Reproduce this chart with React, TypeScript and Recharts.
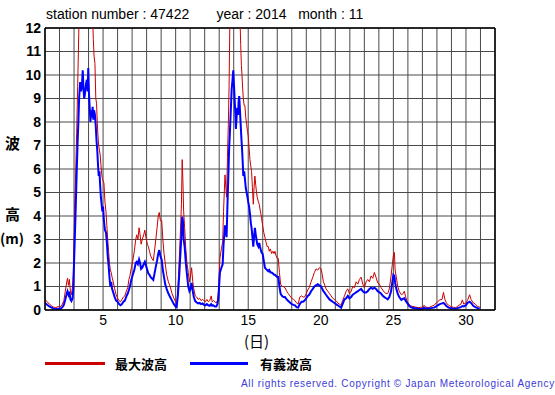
import React from "react";
import {
  LineChart,
  Line,
  XAxis,
  YAxis,
  CartesianGrid,
  ReferenceLine,
} from "recharts";

// time in days of the month (station 47422, 2014-11)
const days = [
  1.0, 1.15, 1.3, 1.45, 1.6, 1.75, 1.9, 2.05, 2.2, 2.3, 2.4, 2.5, 2.55, 2.62, 2.68, 2.75, 2.82, 2.9, 2.95,
  3.0, 3.05, 3.1, 3.18, 3.25, 3.3, 3.35, 3.42, 3.48, 3.55, 3.6, 3.65, 3.7, 3.75, 3.82, 3.88, 3.94, 3.98,
  4.03, 4.08, 4.13, 4.18, 4.23, 4.28, 4.33, 4.38, 4.44, 4.5, 4.55, 4.6, 4.65, 4.7, 4.75, 4.8, 4.85, 4.9, 4.95,
  5.0, 5.06, 5.13, 5.2, 5.26, 5.32, 5.38, 5.44, 5.5, 5.56, 5.62, 5.7, 5.8, 5.9,
  6.0, 6.1, 6.2, 6.3, 6.4, 6.5, 6.6, 6.7, 6.78, 6.85, 6.95,
  7.05, 7.15, 7.25, 7.32, 7.4, 7.48, 7.55, 7.62, 7.7, 7.8, 7.88, 7.95,
  8.05, 8.12, 8.2, 8.28, 8.36, 8.46, 8.56, 8.65, 8.72, 8.8, 8.87, 8.95,
  9.04, 9.12, 9.2, 9.28, 9.38, 9.5, 9.62, 9.75, 9.88,
  10.0, 10.07, 10.15, 10.25, 10.32, 10.4, 10.45, 10.5, 10.55, 10.62, 10.7, 10.78, 10.87, 10.95,
  11.02, 11.1, 11.18, 11.25, 11.35, 11.45, 11.55, 11.65, 11.75, 11.85, 11.95,
  12.05, 12.15, 12.25, 12.35, 12.45, 12.52, 12.6, 12.7, 12.8, 12.88, 12.95,
  13.05, 13.15, 13.24, 13.3, 13.35, 13.4, 13.46, 13.51, 13.57, 13.63, 13.68, 13.74, 13.8, 13.86, 13.92, 13.97,
  14.04, 14.1, 14.15, 14.2, 14.24, 14.3, 14.34, 14.38, 14.43, 14.48, 14.53, 14.57, 14.62, 14.66, 14.72, 14.77,
  14.83, 14.89, 14.95,
  15.0, 15.06, 15.12, 15.18, 15.23, 15.29, 15.35, 15.4, 15.46, 15.52, 15.57, 15.62, 15.7, 15.76, 15.81, 15.87,
  15.92, 15.99,
  16.07, 16.15, 16.22, 16.3, 16.38, 16.45, 16.53, 16.61, 16.7, 16.78, 16.84, 16.92,
  17.0, 17.07, 17.15, 17.23, 17.32, 17.42, 17.53, 17.65, 17.76, 17.87,
  18.0, 18.12, 18.22, 18.33, 18.44, 18.55, 18.67, 18.78, 18.88,
  19.0, 19.1, 19.2, 19.33, 19.45, 19.56, 19.67, 19.79, 19.9,
  20.02, 20.1, 20.18, 20.25, 20.36, 20.48, 20.6, 20.71, 20.82, 20.94,
  21.05, 21.17, 21.28, 21.4, 21.5, 21.63, 21.75, 21.86, 21.97,
  22.09, 22.2, 22.32, 22.43, 22.55, 22.66, 22.78, 22.89,
  23.0, 23.12, 23.23, 23.35, 23.46, 23.58, 23.69, 23.8, 23.92,
  24.04, 24.15, 24.27, 24.38, 24.5, 24.61, 24.72, 24.84, 24.92,
  25.0, 25.07, 25.12, 25.2, 25.3, 25.4, 25.55, 25.68, 25.75, 25.85, 25.95,
  26.08, 26.2, 26.35, 26.55, 26.75, 26.9,
  27.0, 27.1, 27.25, 27.45, 27.6, 27.8, 27.95,
  28.05, 28.2, 28.35, 28.45, 28.55, 28.65, 28.8, 28.95,
  29.1, 29.3, 29.5, 29.65, 29.75, 29.85,
  30.0, 30.1, 30.25, 30.35, 30.5, 30.65, 30.8, 30.95,
];

// 最大波高 (m)
const maxWave = [
  0.45, 0.35, 0.25, 0.18, 0.12, 0.1, 0.15, 0.12, 0.25, 0.4, 0.8, 1.2, 1.35, 1.05, 1.3, 0.8, 0.65, 1.0, 1.5,
  3.0, 4.5, 5.5, 7.5, 9.5, 11.0, 12.5, 13.5, 14.0, 14.5, 14.8, 15.0, 15.0, 14.8, 14.6, 14.5, 14.3, 14.2,
  14.0, 13.8, 13.5, 13.2, 13.0, 12.5, 11.5, 10.8, 10.5, 9.0, 8.8, 8.0, 7.4, 7.0, 6.8, 6.6, 6.2, 5.8, 5.6,
  5.5, 5.4, 4.6, 4.2, 3.6, 3.0, 2.5, 2.0, 1.7, 1.6, 1.4, 1.2, 0.9, 0.65,
  0.5, 0.4, 0.35, 0.45, 0.55, 0.6, 0.8, 0.95, 1.3, 1.45, 1.8,
  2.1, 2.5, 3.0, 3.2, 3.0, 3.5, 3.2, 2.8, 3.0, 3.2, 3.4, 3.1,
  2.8, 2.7, 2.5, 2.3, 2.2, 2.1, 2.6, 3.1, 3.5, 4.0, 4.15, 3.8,
  3.8, 3.0, 2.4, 2.0, 1.5, 1.2, 1.0, 0.7, 0.5,
  0.35, 0.28, 0.8, 2.2, 3.2, 4.5, 6.4, 5.5, 4.2, 3.5, 2.6, 2.0, 1.6, 1.2,
  1.4, 1.8, 1.2, 0.9, 0.6, 0.55, 0.45, 0.5, 0.4, 0.45, 0.4,
  0.35, 0.45, 0.35, 0.4, 0.6, 0.35, 0.4, 0.35, 0.3, 0.4, 0.8,
  2.2, 2.6, 2.9, 4.2, 5.0, 5.75, 5.2, 4.8, 6.5, 7.9, 9.5, 12.5, 13.5, 14.2, 14.8, 15.0,
  15.0, 14.8, 14.5, 14.2, 14.0, 13.6, 13.3, 13.0, 12.5, 11.3, 10.4, 10.0, 9.4, 9.0, 8.7, 8.7,
  8.2, 7.9, 7.6,
  7.4, 6.9, 6.4, 6.1, 5.9, 5.2, 4.5, 5.2, 5.7, 5.3, 5.0, 4.8, 4.6, 4.5, 4.3, 4.1,
  3.9, 3.6,
  3.3, 3.1, 2.9, 2.7, 2.7, 2.5, 2.6, 2.4, 2.5, 2.4, 2.5, 2.3,
  2.2, 2.2, 1.6, 1.1, 1.0, 1.0, 0.95, 0.8, 0.7, 0.6,
  0.5, 0.45, 0.4, 0.3, 0.25, 0.55, 0.6, 0.55, 0.55,
  0.7, 0.85, 0.95, 1.2, 1.4, 1.6, 1.75, 1.7, 1.8,
  1.75, 1.5, 1.2, 1.1, 0.9, 0.8, 0.7, 0.6, 0.5, 0.45,
  0.4, 0.3, 0.25, 0.2, 0.4, 0.6, 0.8, 0.9, 0.7,
  0.8, 1.0, 0.95, 1.2, 1.1, 1.3, 1.4, 1.1,
  0.95, 1.2, 1.3, 1.2, 1.45, 1.35, 1.6, 1.4, 1.15,
  1.1, 0.95, 0.85, 0.75, 0.7, 0.7, 0.9, 1.45, 1.9,
  2.3, 2.45, 1.7, 1.4, 1.0, 0.8, 0.65, 0.7, 0.8, 0.55, 0.35,
  0.25, 0.17, 0.15, 0.12, 0.1, 0.12,
  0.1, 0.2, 0.12, 0.1, 0.15, 0.2, 0.3,
  0.35, 0.43, 0.45, 0.75, 0.45, 0.3, 0.2, 0.15,
  0.12, 0.1, 0.2, 0.25, 0.43, 0.25,
  0.3, 0.4, 0.65, 0.45, 0.3, 0.25, 0.15, 0.12,
];

// 有義波高 (m)
const sigWave = [
  0.3, 0.22, 0.15, 0.1, 0.06, 0.03, 0.05, 0.04, 0.12, 0.22, 0.45, 0.7, 0.8, 0.65, 0.78, 0.45, 0.38, 0.5, 0.9,
  2.0, 3.0, 4.0, 5.8, 7.2, 8.0, 9.0, 9.7, 9.3, 9.6, 10.2, 9.4, 9.0, 9.2, 9.6, 9.8, 9.3, 10.3,
  9.2, 8.6, 8.0, 8.5, 8.2, 8.65, 8.1, 8.5, 8.3, 7.8, 7.2, 6.8, 6.2, 5.7, 5.9, 5.3, 4.8, 4.5, 4.2,
  4.4, 3.8, 3.4, 3.3, 2.9, 2.3, 1.9, 1.4, 1.0, 1.2, 0.9, 0.75, 0.55, 0.4,
  0.35, 0.25, 0.2, 0.25, 0.35, 0.4, 0.57, 0.7, 0.85, 1.0, 1.3,
  1.5, 1.7, 2.0, 2.05, 1.95, 2.15, 2.0, 1.75, 1.8, 1.95, 2.05, 1.9,
  1.7, 1.55, 1.5, 1.4, 1.35, 1.28, 1.6, 1.9, 2.1, 2.4, 2.55, 2.3,
  2.13, 1.7, 1.4, 1.1, 0.9, 0.7, 0.55, 0.4, 0.25,
  0.15, 0.12, 0.6, 1.5, 2.3, 3.2, 3.97, 3.8, 3.0, 2.7, 2.0, 1.5, 1.0, 0.8,
  0.9, 1.15, 0.8, 0.55, 0.38, 0.32, 0.28, 0.3, 0.25, 0.28, 0.22,
  0.2, 0.25, 0.2, 0.18, 0.25, 0.18, 0.2, 0.15, 0.15, 0.25, 0.55,
  1.6, 1.8, 1.95, 2.8, 3.2, 3.6, 3.4, 3.1, 4.5, 5.7, 6.8, 7.6, 8.5, 9.4, 9.8, 10.2,
  9.3, 8.5, 7.7, 8.2, 8.6, 8.3, 8.9, 9.1, 8.5, 7.9, 7.3, 6.9, 6.3, 5.7, 5.9, 5.6,
  5.2, 5.0, 4.8,
  4.6, 4.4, 4.1, 3.7, 3.5, 3.1, 2.7, 3.1, 3.5, 3.2, 3.0, 2.8, 2.7, 2.85, 2.7, 2.55,
  2.45, 2.4,
  2.1, 1.8, 1.75, 1.7, 1.65, 1.7, 1.6, 1.6, 1.55, 1.5, 1.5, 1.45,
  1.4, 1.4, 1.0, 0.7, 0.6, 0.55, 0.55, 0.45, 0.38, 0.32,
  0.25, 0.22, 0.2, 0.12, 0.1, 0.25, 0.35, 0.35, 0.4,
  0.5, 0.6, 0.65, 0.8, 0.9, 1.0, 1.05, 1.1, 1.05,
  1.0, 0.9, 0.8, 0.75, 0.65, 0.55, 0.45, 0.4, 0.35, 0.3,
  0.25, 0.2, 0.15, 0.1, 0.25, 0.45, 0.5, 0.6, 0.5,
  0.55, 0.65, 0.7, 0.75, 0.8, 0.85, 0.9, 0.8,
  0.75, 0.75, 0.8, 0.9, 0.95, 0.9, 0.95, 0.9, 0.8,
  0.75, 0.7, 0.6, 0.55, 0.5, 0.45, 0.55, 0.8, 1.15,
  1.5, 1.45, 1.15, 0.9, 0.7, 0.55, 0.43, 0.48, 0.5, 0.38, 0.3,
  0.18, 0.12, 0.08, 0.07, 0.05, 0.04,
  0.03, 0.1, 0.06, 0.06, 0.08, 0.1, 0.15,
  0.2, 0.25, 0.28, 0.3, 0.25, 0.17, 0.1, 0.08,
  0.06, 0.05, 0.1, 0.12, 0.17, 0.15,
  0.2, 0.3, 0.35, 0.3, 0.18, 0.12, 0.08, 0.06,
];

const xTicks = [
  1, 2, 3, 4, 5, 6, 7, 8, 9, 10, 11, 12, 13, 14, 15, 16, 17, 18, 19, 20, 21, 22, 23, 24, 25, 26, 27, 28,
  29, 30, 31, 32,
];
const xLabels = [5, 10, 15, 20, 25, 30];
const yTicks = [0, 1, 2, 3, 4, 5, 6, 7, 8, 9, 10, 11, 12];

const data = days.map((d, i) => ({ day: d, max: maxWave[i], sig: sigWave[i] }));

const FONT = '"Liberation Sans", Arial, Helvetica, sans-serif';
const JP = '"Noto Sans CJK JP", "Liberation Sans", sans-serif';

const label = (left: number, top: number, size: number, bold = true): React.CSSProperties => ({
  position: "absolute",
  left,
  top,
  fontSize: size,
  lineHeight: `${size}px`,
  fontWeight: bold ? "bold" : "normal",
  fontFamily: JP,
  whiteSpace: "nowrap",
});

export default function App() {
  return (
    <div
      style={{
        position: "absolute",
        left: 0,
        top: 0,
        width: 555,
        height: 395,
        background: "#fff",
        fontFamily: FONT,
        color: "#000",
      }}
    >
      <div
        style={{
          position: "absolute",
          left: 46,
          top: 7,
          fontSize: 14,
          whiteSpace: "pre",
          lineHeight: "14px",
        }}
      >
        {"station number : 47422       year : 2014   month : 11"}
      </div>

      <LineChart
        width={555}
        height={395}
        data={data}
        margin={{ top: 28, right: 60, bottom: 0, left: 0 }}
      >
        <CartesianGrid stroke="#4a4a4a" strokeWidth={1} />
        <XAxis
          type="number"
          dataKey="day"
          domain={[1, 32]}
          ticks={xTicks}
          interval={0}
          allowDataOverflow
          height={85}
          tickSize={0}
          tickMargin={5}
          axisLine={{ stroke: "#000", strokeWidth: 1.5 }}
          tickLine={false}
          tick={{ fill: "#000", fontSize: 14, fontFamily: FONT }}
          tickFormatter={(v: number) => (xLabels.includes(v) ? String(v) : "")}
        />
        <YAxis
          type="number"
          domain={[0, 12]}
          ticks={yTicks}
          interval={0}
          allowDataOverflow
          width={45}
          tickSize={0}
          tickMargin={4}
          axisLine={{ stroke: "#000", strokeWidth: 1.5 }}
          tickLine={false}
          tick={{ fill: "#000", fontSize: 14, fontWeight: "bold", fontFamily: FONT }}
        />
        <ReferenceLine y={12} stroke="#000" strokeWidth={1.5} />
        <ReferenceLine x={32} stroke="#000" strokeWidth={1.5} />
        <Line
          type="linear"
          dataKey="max"
          stroke="#cc0000"
          strokeWidth={1}
          dot={false}
          isAnimationActive={false}
        />
        <Line
          type="linear"
          dataKey="sig"
          stroke="#0000ff"
          strokeWidth={2}
          dot={false}
          isAnimationActive={false}
        />
      </LineChart>

      <div style={label(5, 135, 15)}>波</div>
      <div style={label(5, 206, 15)}>高</div>
      <div style={label(0, 231, 14)}>(m)</div>
      <div style={label(244, 333, 15, false)}>(日)</div>

      <div style={{ position: "absolute", left: 45, top: 362, width: 60, height: 3, background: "#cc0000" }} />
      <div style={label(115, 357, 13)}>最大波高</div>
      <div style={{ position: "absolute", left: 190, top: 362, width: 58, height: 3, background: "#0000ff" }} />
      <div style={label(260, 357, 13)}>有義波高</div>

      <div
        style={{
          position: "absolute",
          left: 241,
          top: 379,
          fontSize: 10,
          lineHeight: "10px",
          letterSpacing: 0.7,
          color: "#3b3bd6",
          whiteSpace: "nowrap",
        }}
      >
        All rights reserved. Copyright © Japan Meteorological Agency
      </div>
    </div>
  );
}
